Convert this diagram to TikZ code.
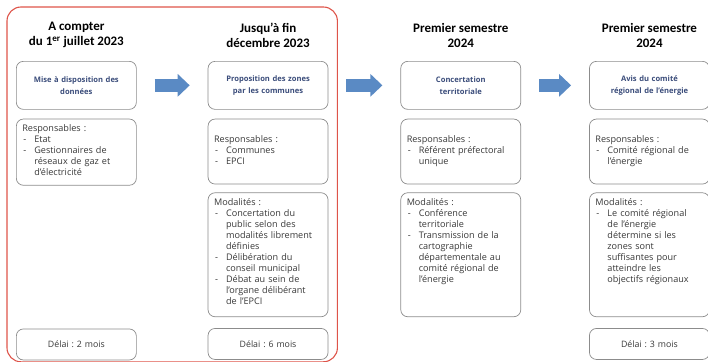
\documentclass[tikz,border=0pt]{standalone}
\usepackage{fontspec}
\setmainfont{Open Sans}
\newfontfamily\titrefont{Carlito}
\usetikzlibrary{positioning, calc, arrows.meta}
\frenchspacing
\definecolor{cadre}{RGB}{222,84,74}
\definecolor{bord}{RGB}{140,140,140}
\definecolor{fleche}{RGB}{90,138,196}
\definecolor{bleutxt}{RGB}{58,76,122}
\definecolor{texte}{RGB}{55,55,55}
\newcommand{\tiret}[1]{\par\noindent\makebox[12pt][l]{\hspace{1pt}-}%
   \parbox[t]{96pt}{\raggedright\strut #1\strut}}
\newcommand{\bloc}[1]{\parbox{108pt}{\raggedright\lineskip=0pt #1}}
\newcommand{\enhaut}[1]{\parbox[c][112pt][t]{108pt}{\raggedright\lineskip=0pt #1}}
\tikzset{
etape/.style = {rectangle, rounded corners = 7pt, draw = bord, line width = .7pt,
   text width = 108pt, inner sep = 6pt, align = center},
titre/.style = {etape, minimum height = 48pt, text = bleutxt,
   font = \fontsize{7.6}{12}\selectfont\bfseries},
resp/.style = {etape, minimum height = 65pt, align = left, text = texte,
   font = \fontsize{9.1}{11}\selectfont},
modal/.style = {resp, minimum height = 124pt},
delai/.style = {etape, minimum height = 31pt, text = texte,
   font = \fontsize{8.8}{11}\selectfont},
entete/.style = {align = center, inner sep = 0pt,
   font = \titrefont\bfseries\fontsize{13}{15}\selectfont},
suite/.style = {-{Triangle[width = 22pt, length = 12pt]}, line width = 13pt,
   draw = fleche, shorten < = 18pt, shorten > = 18pt},
cadrerouge/.style = {draw = cadre, line width = 1.1pt, rounded corners = 14pt}
}

\begin{document}
\begin{tikzpicture}

\useasboundingbox (0,0) rectangle (708pt,-361pt);

%% Etapes
\node [titre, anchor = north west] (t1) at (16pt,-61pt) {Mise à disposition des\\données};
\node [titre] (t2) [right = 71pt of t1] {Proposition des zones\\par les communes};
\node [titre] (t3) [right = 72pt of t2] {Concertation\\territoriale};
\node [titre] (t4) [right = 68pt of t3] {Avis du comité\\régional de l’énergie};

%% Calendrier
\node [entete] (h1) [above = 13pt of t1] {A compter\\du 1\textsuperscript{er} juillet 2023};
\node [entete] (h2) [above = 13pt of t2] {Jusqu’à fin\\décembre 2023};
\node [entete] (h3) [above = 13pt of t3] {Premier semestre\\2024};
\node [entete] (h4) [above = 13pt of t4] {Premier semestre\\2024};

%% Responsables
\node [resp] (r1) [below = 9pt of t1] {\bloc{Responsables :\tiret{Etat}\tiret{Gestionnaires de\\réseaux de gaz et\\d’électricité}}};
\node [resp] (r2) [below = 9pt of t2] {\bloc{Responsables :\tiret{Communes}\tiret{EPCI}}};
\node [resp] (r3) [below = 9pt of t3] {\bloc{Responsables :\tiret{Référent préfectoral\\unique}}};
\node [resp] (r4) [below = 9pt of t4] {\bloc{Responsables :\tiret{Comité régional de\\l’énergie}}};

%% Modalites
\node [modal] (m2) [below = 8pt of r2] {\enhaut{Modalités :\tiret{Concertation du\\public selon des\\modalités librement\\définies}\tiret{Délibération du\\conseil municipal}\tiret{Débat au sein de\\l’organe délibérant\\de l’EPCI}}};
\node [modal] (m3) [below = 8pt of r3] {\enhaut{Modalités :\tiret{Conférence\\territoriale}\tiret{Transmission de la\\cartographie\\départementale au\\comité régional de\\l’énergie}}};
\node [modal] (m4) [below = 8pt of r4] {\enhaut{Modalités :\tiret{Le comité régional\\de l’énergie\\détermine si les\\zones sont\\suffisantes pour\\atteindre les\\objectifs régionaux}}};

%% Delais
\node [delai] (d1) [below = 143pt of r1] {Délai : 2 mois};
\node [delai] (d2) [below = 11pt of m2] {Délai : 6 mois};
\node [delai] (d4) [below = 11pt of m4] {Délai : 3 mois};

%% Fleches
\draw [suite] (t1) -- (t2);
\draw [suite] (t2) -- (t3);
\draw [suite] (t3) -- (t4);

%% Cadre 2023
\draw [cadrerouge] ($(t1.north west)+(-9pt,54pt)$) rectangle ($(d2.south east)+(9pt,-2pt)$);

\end{tikzpicture}
\end{document}
